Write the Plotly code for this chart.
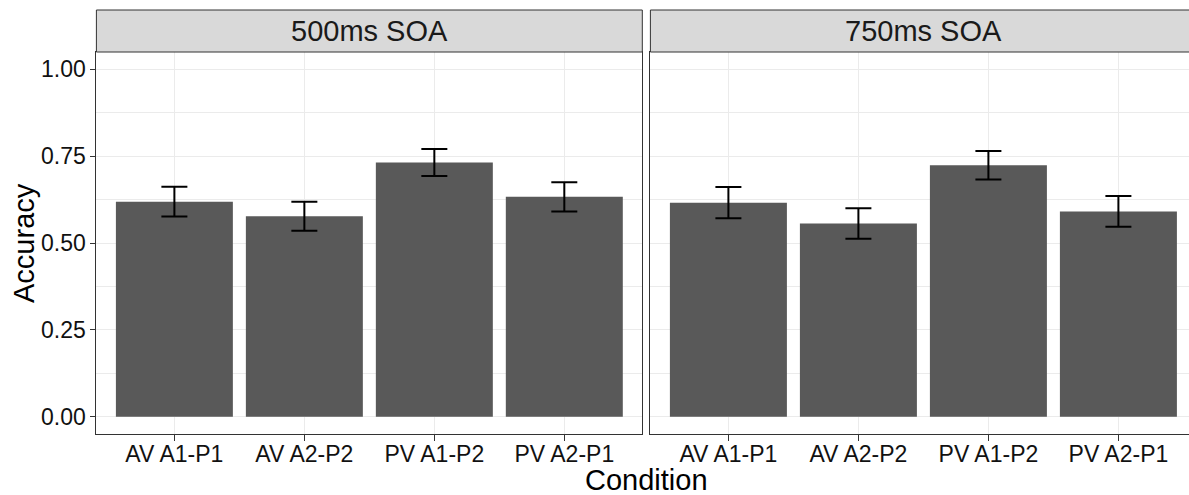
import plotly.graph_objects as go

conditions = ["AV A1-P1", "AV A2-P2", "PV A1-P2", "PV A2-P1"]
panels = ["500ms SOA", "750ms SOA"]
acc_500 = [0.619, 0.577, 0.732, 0.633]
se_500 = [0.043, 0.042, 0.039, 0.042]
acc_750 = [0.616, 0.556, 0.724, 0.591]
se_750 = [0.045, 0.044, 0.041, 0.044]
y_ticks = [0.0, 0.25, 0.5, 0.75, 1.0]

W, H = 1189, 495
ML, MR, MT, MB = 96, 0, 52, 61
PW = W - ML - MR
PH = H - MT - MB
left_px = (96.4, 642.3)
right_px = (650.4, 1189.0)
unit = 546.0 / 4.2


def px2x(p):
    return (p - ML) / PW


def py2y(p):
    return (H - MB - p) / PH


FONT = "Liberation Sans, Arial, sans-serif"
BAR = "#595959"
GRID = "#EBEBEB"
BORDER = "#333333"

fig = go.Figure()
for i, (vals, errs) in enumerate([(acc_500, se_500), (acc_750, se_750)]):
    fig.add_trace(go.Bar(
        x=conditions, y=vals, width=0.9,
        marker=dict(color=BAR, line=dict(width=0)),
        error_y=dict(type="data", array=errs, color="black", thickness=2, width=13),
        xaxis="x" if i == 0 else "x2", yaxis="y" if i == 0 else "y2",
        showlegend=False,
    ))

common_x = dict(
    type="category", categoryorder="array", categoryarray=conditions,
    showgrid=True, gridcolor=GRID, gridwidth=1.1,
    ticks="outside", ticklen=6, tickcolor=BORDER, tickwidth=1,
    ticklabelstandoff=-7,
    tickfont=dict(family=FONT, size=23, color="#111111"),
    zeroline=False, fixedrange=True,
)
common_y = dict(
    range=[-0.05, 1.05], tickvals=y_ticks, tickformat=".2f",
    showgrid=True, gridcolor=GRID, gridwidth=1.1,
    minor=dict(tick0=0.125, dtick=0.25, showgrid=True, gridcolor=GRID, gridwidth=0.6),
    zeroline=False, fixedrange=True,
)

fig.update_layout(
    width=W, height=H,
    margin=dict(l=ML, r=MR, t=MT, b=MB, pad=0),
    plot_bgcolor="white", paper_bgcolor="white",
    bargap=0.1,
    xaxis=dict(common_x, domain=[px2x(left_px[0]), px2x(left_px[1])], range=[-0.6, 3.6],
               showline=True, linecolor=BORDER, linewidth=1, mirror=True, anchor="y"),
    xaxis2=dict(common_x, domain=[px2x(right_px[0]), 1.0],
                range=[-0.6, -0.6 + (right_px[1] - right_px[0]) / unit],
                showline=True, linecolor=BORDER, linewidth=1, mirror=True, anchor="y2"),
    yaxis=dict(common_y, anchor="x", showline=True, linecolor=BORDER, linewidth=1, mirror=True,
               ticks="outside", ticklen=5, tickcolor=BORDER,
               tickfont=dict(family=FONT, size=23, color="#111111")),
    yaxis2=dict(common_y, anchor="x2", showticklabels=False, showline=True,
                linecolor=BORDER, linewidth=1, mirror=False),
)

# strips
strip_top = py2y(10)
for name, (a, b) in zip(panels, [left_px, (right_px[0], 1196.0)]):
    fig.add_shape(type="rect", xref="paper", yref="paper",
                  x0=px2x(a), x1=px2x(b), y0=1.0, y1=strip_top,
                  fillcolor="#D9D9D9", line=dict(color=BORDER, width=1), layer="above")
    fig.add_annotation(text=name, xref="paper", yref="paper",
                       x=px2x((a + b) / 2), y=py2y(31), xanchor="center", yanchor="middle",
                       showarrow=False, font=dict(family=FONT, size=29, color="#1A1A1A"))

fig.add_annotation(text="Accuracy", xref="paper", yref="paper", textangle=-90,
                   x=px2x(24), y=py2y(243), xanchor="center", yanchor="middle",
                   showarrow=False, font=dict(family=FONT, size=29, color="black"))
fig.add_annotation(text="Condition", xref="paper", yref="paper",
                   x=px2x(646), y=py2y(480), xanchor="center", yanchor="middle",
                   showarrow=False, font=dict(family=FONT, size=29, color="black"))

fig.write_html("out.html")
